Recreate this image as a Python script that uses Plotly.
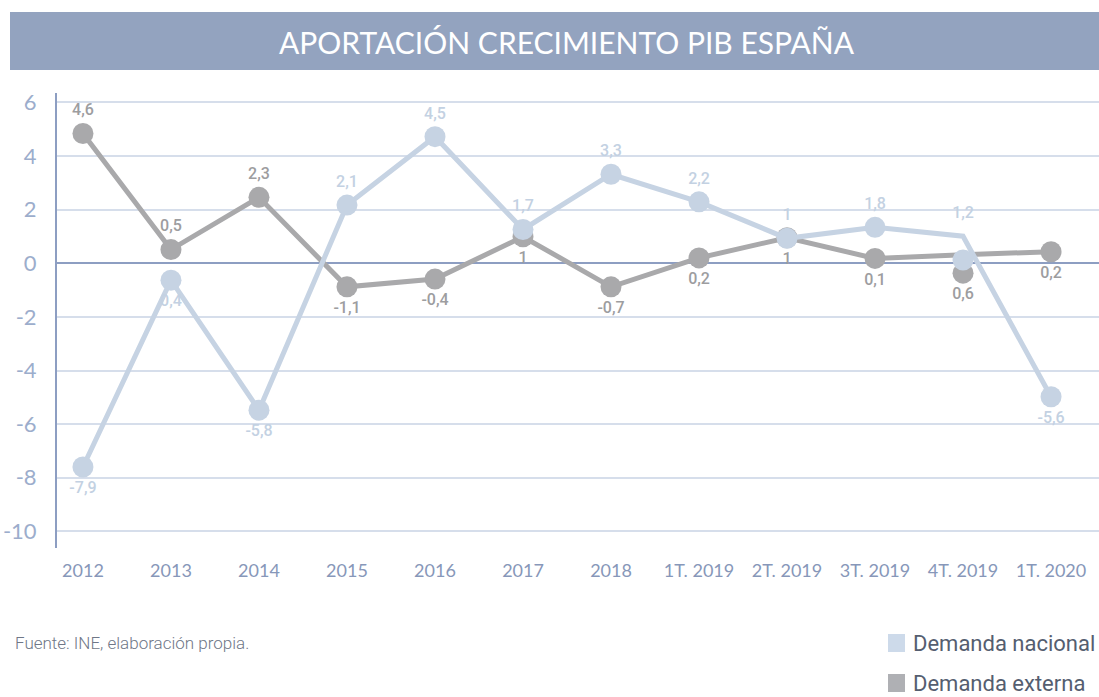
import plotly.graph_objects as go

# ---- data ----
categories = ["2012", "2013", "2014", "2015", "2016", "2017", "2018",
              "1T. 2019", "2T. 2019", "3T. 2019", "4T. 2019", "1T. 2020"]

# positions as drawn in the picture (line vertices and marker centres)
nacional_line = [-7.6, -0.63, -5.48, 2.17, 4.72, 1.26, 3.32, 2.29, 0.93, 1.34, 1.01, -4.98]
nacional_marker = [-7.6, -0.63, -5.48, 2.17, 4.72, 1.26, 3.32, 2.29, 0.93, 1.34, 0.12, -4.98]
nacional_labels = ["-7,9", "0,4", "-5,8", "2,1", "4,5", "1,7", "3,3", "2,2", "1", "1,8", "1,2", "-5,6"]
nacional_label_pos = ["bottom center", "bottom center", "bottom center", "top center", "top center",
                      "top center", "top center", "top center", "top center", "top center",
                      "top center", "bottom center"]

externa_line = [4.84, 0.51, 2.46, -0.88, -0.59, 0.99, -0.88, 0.2, 0.95, 0.18, 0.32, 0.43]
externa_marker = [4.84, 0.51, 2.46, -0.88, -0.59, 0.99, -0.88, 0.2, 0.95, 0.18, -0.37, 0.43]
externa_labels = ["4,6", "0,5", "2,3", "-1,1", "-0,4", "1", "-0,7", "0,2", "1", "0,1", "0,6", "0,2"]
externa_label_pos = ["top center", "top center", "top center", "bottom center", "bottom center",
                     "bottom center", "bottom center", "bottom center", "bottom center",
                     "bottom center", "bottom center", "bottom center"]

y_ticks = [6, 4, 2, 0, -2, -4, -6, -8, -10]

title_text = "APORTACIÓN CRECIMIENTO PIB ESPAÑA"
source_text = "Fuente: INE, elaboración propia."
legend_names = ["Demanda nacional", "Demanda externa"]

# ---- styles ----
BLUE = "#c6d3e3"
GRAY = "#a9a9ab"
BLUE_TXT = "#c3d1e2"
GRAY_TXT = "#9d9d9f"
AXIS = "#8d9ec2"
GRID = "#d6deeb"

x = list(range(len(categories)))

fig = go.Figure()

# externa (drawn below)
fig.add_trace(go.Scatter(x=x, y=externa_line, mode="lines",
                         line=dict(color=GRAY, width=5), hoverinfo="skip", showlegend=False))
fig.add_trace(go.Scatter(x=x, y=externa_marker, mode="markers+text",
                         marker=dict(color=GRAY, size=21),
                         text=externa_labels, textposition=externa_label_pos,
                         textfont=dict(family="Roboto", size=16, color=GRAY_TXT, weight=500),
                         showlegend=False))

# nacional (drawn on top)
nac_marker_text = [t if abs(a - b) < 1e-9 else "" for t, a, b in zip(nacional_labels, nacional_line, nacional_marker)]
nac_line_text = ["" if abs(a - b) < 1e-9 else t for t, a, b in zip(nacional_labels, nacional_line, nacional_marker)]
fig.add_trace(go.Scatter(x=x, y=nacional_line, mode="lines+markers+text",
                         line=dict(color=BLUE, width=5),
                         marker=dict(color=BLUE, size=21, opacity=0),
                         text=nac_line_text, textposition=nacional_label_pos,
                         textfont=dict(family="Roboto", size=16, color=BLUE_TXT, weight=500),
                         hoverinfo="skip", showlegend=False))
fig.add_trace(go.Scatter(x=x, y=nacional_marker, mode="markers+text",
                         marker=dict(color=BLUE, size=21),
                         text=nac_marker_text, textposition=nacional_label_pos,
                         textfont=dict(family="Roboto", size=16, color=BLUE_TXT, weight=500),
                         showlegend=False))

fig.update_layout(
    width=1099, height=697,
    margin=dict(l=57, r=0, t=93, b=149),
    paper_bgcolor="white", plot_bgcolor="white",
    xaxis=dict(
        range=[-0.295, 11.545],
        tickmode="array", tickvals=x, ticktext=categories,
        showgrid=False, zeroline=False, showline=False, ticks="",
        tickfont=dict(family="Lato", size=18, color="#8797b9"),
        ticklabelstandoff=10,
    ),
    yaxis=dict(
        range=[-10.62, 6.35],
        tickmode="array", tickvals=y_ticks, ticktext=[str(v) for v in y_ticks],
        showgrid=True, gridcolor=GRID, gridwidth=1.5,
        zeroline=True, zerolinecolor=AXIS, zerolinewidth=2,
        showline=True, linecolor=AXIS, linewidth=2, ticks="",
        tickfont=dict(family="Lato", size=22, color="#9cadcc"),
        ticklabelstandoff=14,
    ),
    showlegend=False,
)

# title banner
fig.add_shape(type="rect", xref="paper", yref="paper",
              x0=(10 - 57) / 1042, x1=1.01, y0=(548 - 70) / 455, y1=(548 - 12) / 455,
              fillcolor="#93a3bf", line=dict(width=0), layer="below")
fig.add_annotation(text=title_text, xref="paper", yref="paper",
                   x=(567 - 57) / 1042, y=(548 - 42) / 455, showarrow=False,
                   xanchor="center", yanchor="middle",
                   font=dict(family="Lato", size=30, color="white"))

# source
fig.add_annotation(text=source_text, xref="paper", yref="paper",
                   x=(13 - 57) / 1042, y=(548 - 643) / 455, showarrow=False,
                   xanchor="left", yanchor="middle",
                   font=dict(family="Roboto", size=17, color="#6f7787", weight=300))

# custom legend
legend_colors = ["#cddaea", "#afb0b4"]
legend_y = [643, 683]
for name, col, yc in zip(legend_names, legend_colors, legend_y):
    fig.add_shape(type="rect", xref="paper", yref="paper",
                  x0=(888 - 57) / 1042, x1=(905 - 57) / 1042,
                  y0=(548 - (yc + 9)) / 455, y1=(548 - (yc - 9)) / 455,
                  fillcolor=col, line=dict(width=0))
    fig.add_annotation(text=name, xref="paper", yref="paper",
                       x=(911 - 57) / 1042, y=(548 - yc) / 455, showarrow=False,
                       xanchor="left", yanchor="middle",
                       font=dict(family="Roboto", size=22, color="#555e70"))

fig.write_html("out.html", config={"displayModeBar": False},
               post_script="document.body.style.margin='0';")
